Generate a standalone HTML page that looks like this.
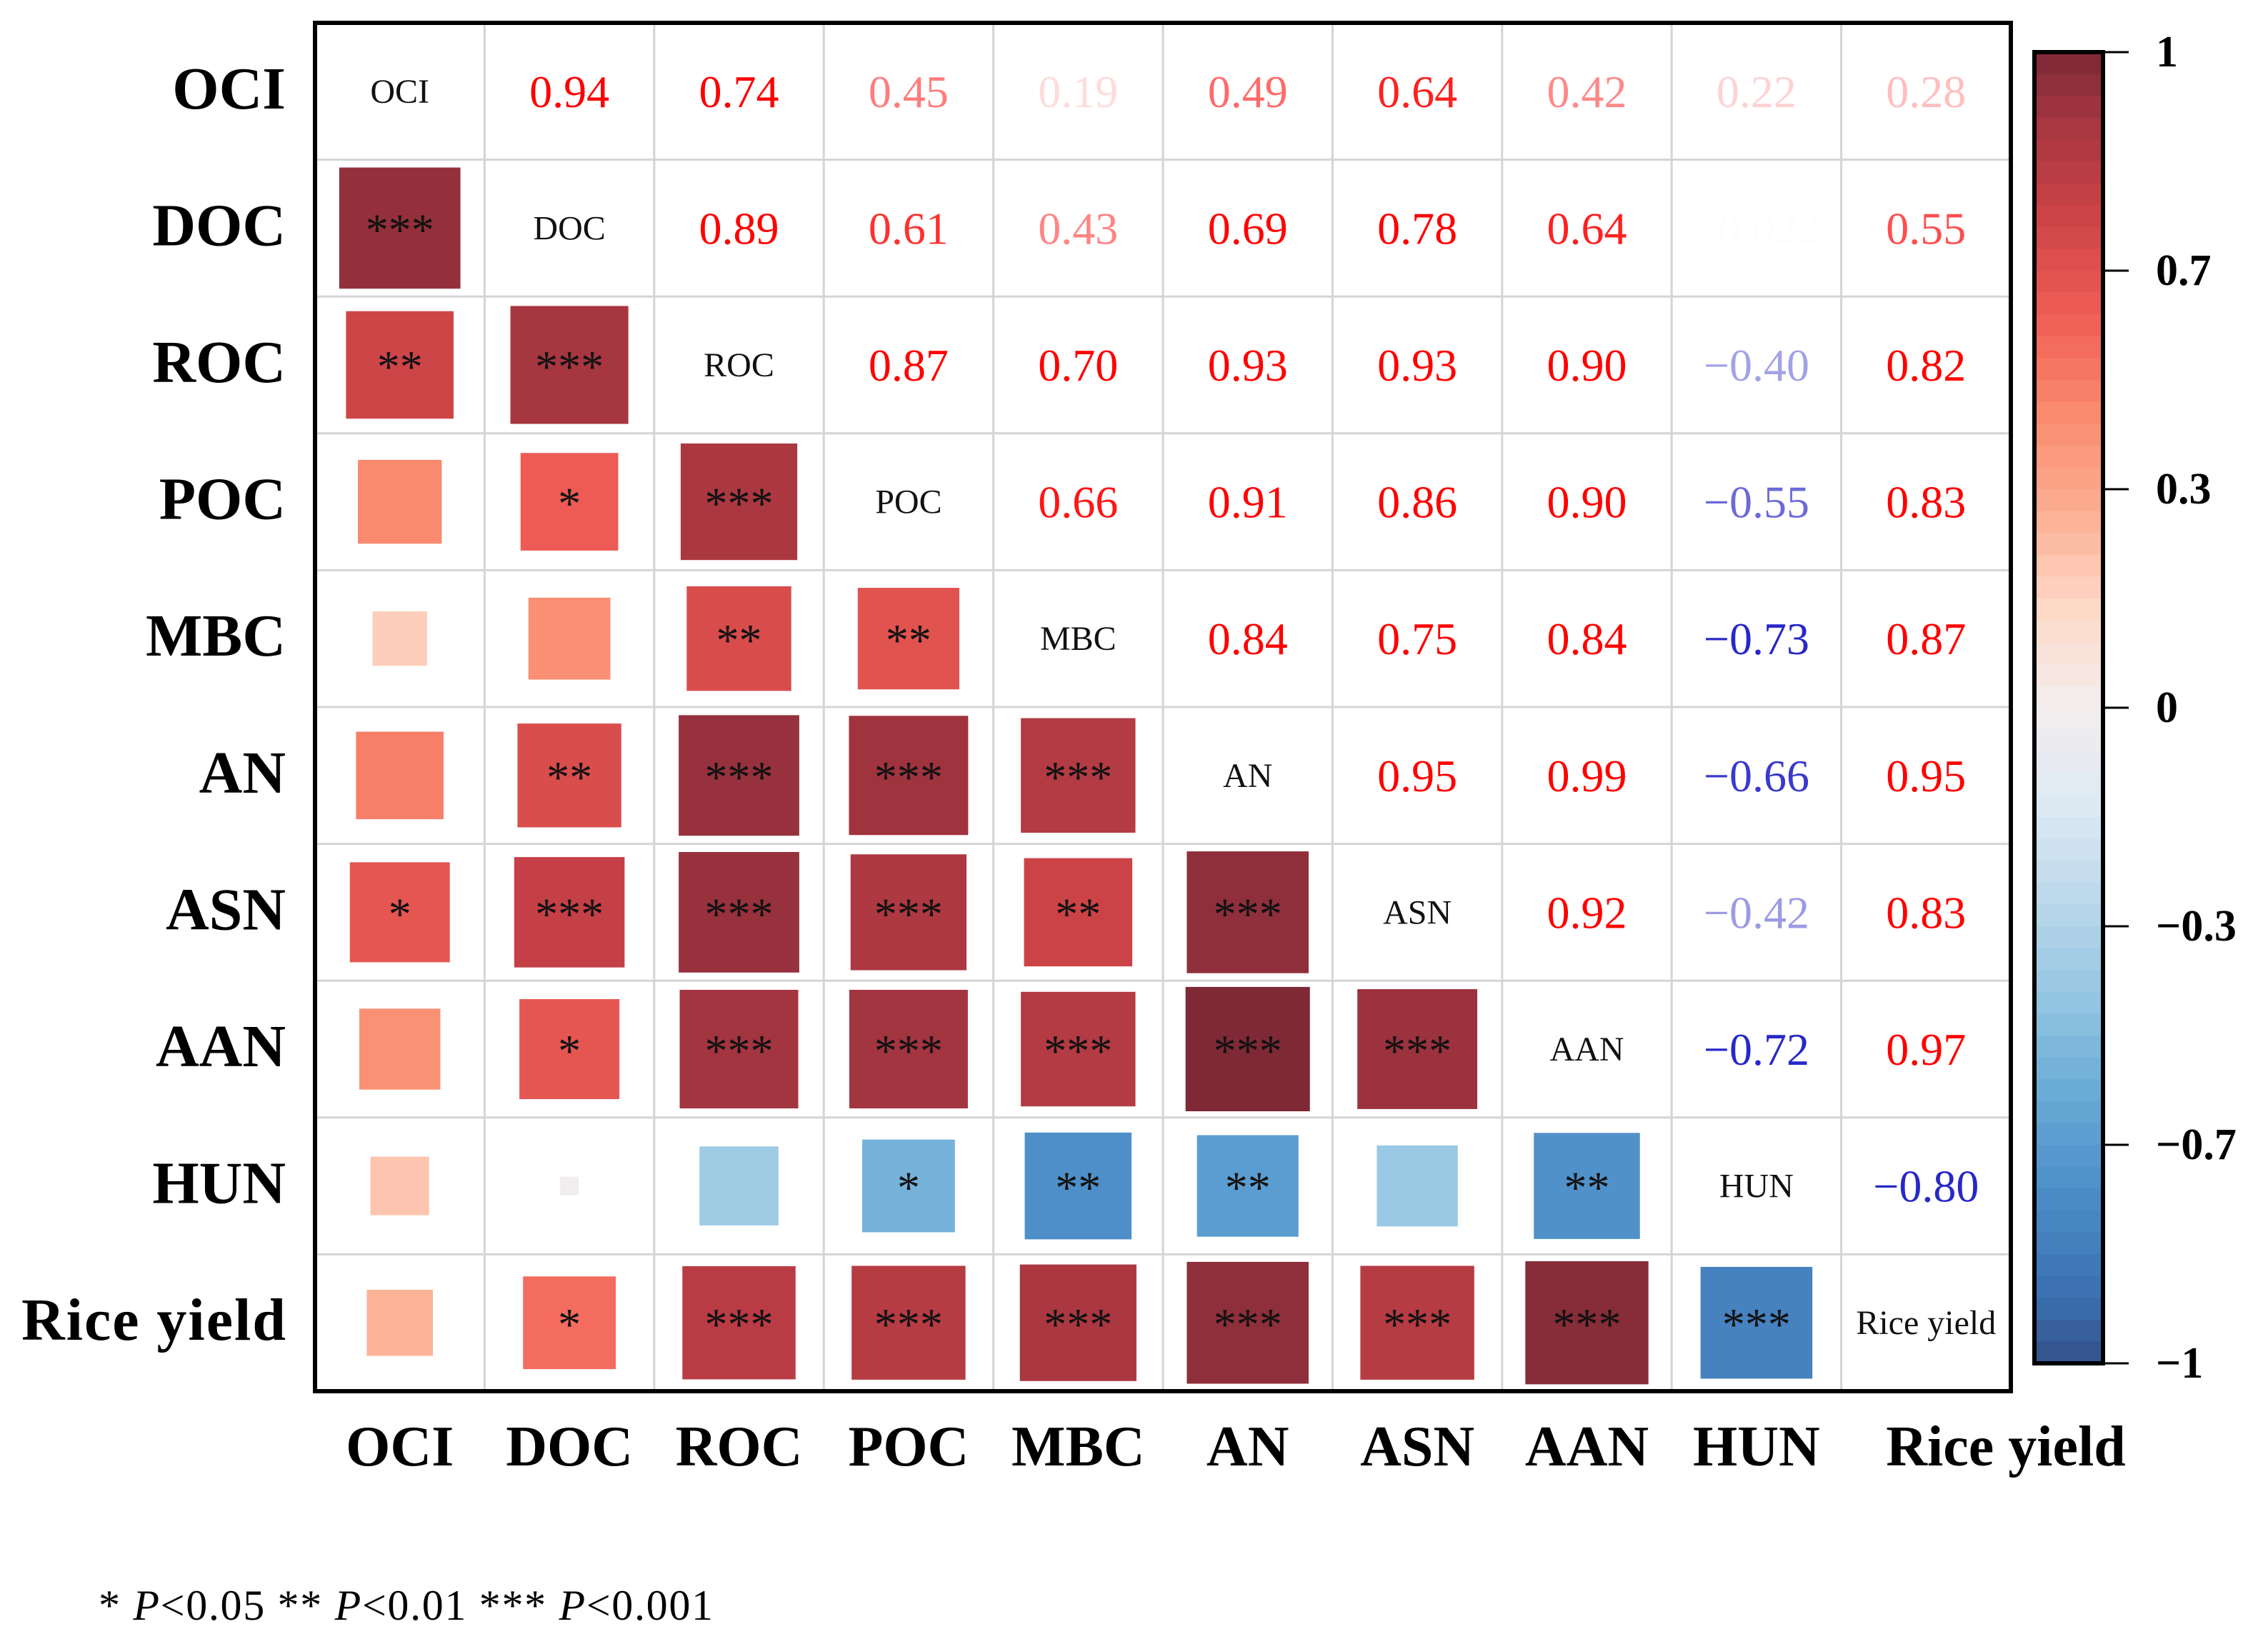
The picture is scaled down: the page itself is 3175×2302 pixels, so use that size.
<!DOCTYPE html>
<html><head><meta charset="utf-8"><style>
html,body{margin:0;padding:0;background:#fff;}
svg{display:block;font-family:"Liberation Serif",serif;}
</style></head><body>
<svg id="chart" width="3175" height="2302" viewBox="0 0 3175 2302">
<rect width="3175" height="2302" fill="#fff"/>
<g id="cells"></g>
<g id="labels"></g>
<rect x="441" y="32" width="2374" height="1916" fill="none" stroke="#000" stroke-width="6"/>
<g id="cbar"></g>
<text x="138" y="2268" font-size="60" textLength="860" lengthAdjust="spacing">* <tspan font-style="italic">P</tspan>&lt;0.05  ** <tspan font-style="italic">P</tspan>&lt;0.01  *** <tspan font-style="italic">P</tspan>&lt;0.001</text>
</svg>
<script>
const variables = ["OCI","DOC","ROC","POC","MBC","AN","ASN","AAN","HUN","Rice yield"];
// upper triangle correlations, row i with columns i+1..9
const corrRows = [
 [0.94,0.74,0.45,0.19,0.49,0.64,0.42,0.22,0.28],
 [0.89,0.61,0.43,0.69,0.78,0.64,-0.022,0.55],
 [0.87,0.70,0.93,0.93,0.90,-0.40,0.82],
 [0.66,0.91,0.86,0.90,-0.55,0.83],
 [0.84,0.75,0.84,-0.73,0.87],
 [0.95,0.99,-0.66,0.95],
 [0.92,-0.42,0.83],
 [-0.72,0.97],
 [-0.80]
];
// significance stars, lower triangle row i, columns 0..i-1
const starRows = [
 [],
 ["***"],
 ["**","***"],
 ["","*","***"],
 ["","","**","**"],
 ["","**","***","***","***"],
 ["*","***","***","***","**","***"],
 ["","*","***","***","***","***","***"],
 ["","","","*","**","**","","**"],
 ["","*","***","***","***","***","***","***","***"]
];
const colorbarTicks = ["1","0.7","0.3","0","\u22120.3","\u22120.7","\u22121"];

const NS="http://www.w3.org/2000/svg";
const X0=441,Y0=32,W=2374,H=1916,n=variables.length,cw=W/n,ch=H/n;
const xc=i=>X0+cw*(i+0.5), yc=i=>Y0+ch*(i+0.5);
const stops=[[1,"#7b2836"],[0.9,"#a33540"],[0.75,"#cc4347"],[0.6,"#ef5d55"],[0.45,"#fa8a6e"],[0.3,"#fcae92"],[0.15,"#fdd9c8"],[0,"#f3eeee"],[-0.15,"#dde9f3"],[-0.3,"#b9d7ea"],[-0.45,"#92c5e2"],[-0.6,"#66a9d6"],[-0.75,"#4a8bc7"],[-0.9,"#3a6fb0"],[-1,"#34508a"]];
function hex(h){return [1,3,5].map(k=>parseInt(h.substr(k,2),16));}
function cmap(v){for(let k=0;k<stops.length-1;k++){const [a,ca]=stops[k],[b,cb]=stops[k+1];if(v<=a&&v>=b){const t=(a-v)/(a-b);const A=hex(ca),B=hex(cb);return "rgb("+A.map((x,j)=>Math.round(x+(B[j]-x)*t)).join(",")+")";}}return stops[0][1];}
function corr(i,j){if(i===j)return 1;const a=Math.min(i,j),b=Math.max(i,j);return corrRows[a][b-a-1];}
function mk(tag,attrs,parent,txt){const e=document.createElementNS(NS,tag);for(const k in attrs)e.setAttribute(k,attrs[k]);if(txt!==undefined)e.textContent=txt;parent.appendChild(e);return e;}
const cells=document.getElementById('cells'),labels=document.getElementById('labels'),cbar=document.getElementById('cbar');
for(let k=1;k<n;k++){
 const l1=mk('line',{x1:X0+cw*k,y1:Y0,x2:X0+cw*k,y2:Y0+H,stroke:"#d6d3d6","stroke-width":3},cells);
 
 
 const l2=mk('line',{x1:X0,y1:Y0+ch*k,x2:X0+W,y2:Y0+ch*k,stroke:"#d6d3d6","stroke-width":3},cells);
 
 
}
for(let i=0;i<n;i++){for(let j=0;j<n;j++){
 if(i===j){
  const t=mk('text',{x:xc(j),y:yc(i)+16,"font-size":48,"text-anchor":"middle",fill:"#111"},cells,variables[i]);
  
  
 } else if(j>i){
  const v=corr(i,j);const a=Math.min(1,Math.pow(Math.abs(v)/0.7,1.5));
  const col=v>=0?"rgba(255,0,0,"+a.toFixed(3)+")":"rgba(40,40,200,"+a.toFixed(3)+")";
  const s=(v<0?"\u2212":"")+(Math.abs(v)===0.022?"0.022":Math.abs(v).toFixed(2));
  const t=mk('text',{x:xc(j),y:yc(i)+22,"font-size":64,"text-anchor":"middle",fill:col},cells,s);
  
  
 } else {
  const v=corr(i,j);const side=175*Math.sqrt(Math.abs(v));
  const r=mk('rect',{x:xc(j)-side/2,y:yc(i)-side/2,width:side,height:side,fill:cmap(v)},cells);
  
  
  const st=starRows[i][j];
  if(st){const t=mk('text',{x:xc(j),y:yc(i)+24,"font-size":64,"text-anchor":"middle",fill:"#111"},cells,st);
   
   }
 }
}}
variables.forEach((v,i)=>{
 const r=mk('text',{x:400,y:yc(i)+24,"font-size":84,"font-weight":"bold","text-anchor":"end"},labels,v);
 if(v==="Rice yield"){r.setAttribute('textLength',370);r.setAttribute('x',30);r.setAttribute('text-anchor','start');}
 
 
 const c=mk('text',{x:(i===n-1?2808:xc(i)),y:2052,"font-size":80,"font-weight":"bold","text-anchor":"middle"},labels,v);
 
 
});
const CX=2848,CW=96,CY=73,CH=1836,steps=60;
for(let k=0;k<steps;k++){
 const v=1-2*(k+0.5)/steps;
 const r=mk('rect',{x:CX,y:CY+CH*k/steps,width:CW,height:CH/steps+1,fill:cmap(v)},cbar);
 
 
}
const fr=mk('rect',{x:CX,y:CY,width:CW,height:CH,fill:"none",stroke:"#000","stroke-width":6},cbar);


colorbarTicks.forEach((lab,k)=>{
 const y=CY+CH*k/(colorbarTicks.length-1);
 const l=mk('line',{x1:CX+CW,y1:y,x2:2980,y2:y,stroke:"#000","stroke-width":3},cbar);
 
 
 const t=mk('text',{x:3018,y:y+20,"font-size":62,"font-weight":"bold"},cbar,lab);
 
 
});
</script>
</body></html>
